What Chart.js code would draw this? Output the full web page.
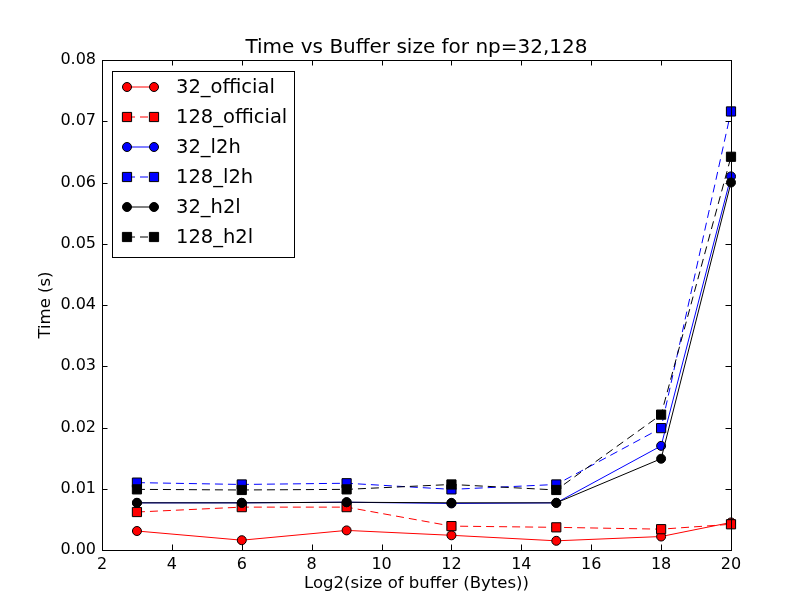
<!DOCTYPE html>
<html>
<head>
<meta charset="utf-8">
<script src="https://cdn.jsdelivr.net/npm/chart.js@4.4.0/dist/chart.umd.min.js"></script>
<style>
  html, body { margin: 0; padding: 0; background: #fff; }
  #wrap { width: 812px; height: 612px; }
</style>
</head>
<body>
<div id="wrap"><canvas id="chart" width="812" height="612"></canvas></div>
<script>
// values
const bufferLog2 = [3, 6, 9, 12, 15, 18, 20];
const official32 = [0.0031, 0.0016, 0.0032, 0.0024, 0.0015, 0.0022, 0.0045];
const official128 = [0.0062, 0.0070, 0.0070, 0.0039, 0.0037, 0.0034, 0.0042];
const l2h32 = [0.0077, 0.0077, 0.0078, 0.0076, 0.0077, 0.0170, 0.0610];
const l2h128 = [0.0110, 0.0107, 0.0109, 0.0099, 0.0107, 0.0199, 0.0716];
const h2l32 = [0.0077, 0.0077, 0.0078, 0.0077, 0.0077, 0.0149, 0.0600];
const h2l128 = [0.0099, 0.0098, 0.0099, 0.0107, 0.0098, 0.0221, 0.0642];
const seriesNames = ['32_official', '128_official', '32_l2h', '128_l2h', '32_h2l', '128_h2l'];
const xTicks = [2, 4, 6, 8, 10, 12, 14, 16, 18, 20];
const yTicks = [0, 0.01, 0.02, 0.03, 0.04, 0.05, 0.06, 0.07, 0.08];
const titleText = 'Time vs Buffer size for np=32,128';

const FONT = '"DejaVu Sans", sans-serif';
const DASH = [8, 5];

function pts(ys) {
    return bufferLog2.map((x, i) => ({ x: x, y: ys[i] }));
}

function series(i, ys, color, dashed) {
    return {
        label: seriesNames[i],
        data: pts(ys),
        borderColor: color,
        backgroundColor: color,
        borderWidth: 1,
        borderDash: dashed ? DASH : [],
        pointStyle: dashed ? 'rect' : 'circle',
        pointRadius: dashed ? 6.5 : 4.5,
        pointBorderColor: '#000',
        pointBorderWidth: 1,
        pointBackgroundColor: color,
        tension: 0,
        fill: false,
        clip: false,
        order: 5 - i, // later series on top, as in matplotlib
    };
}

// frame, inward ticks, title and in-plot legend, like the matplotlib original
const decor = {
    id: 'decor',
    afterDatasetsDraw(chart) {
        const { ctx, chartArea: a, scales } = chart;
        ctx.save();
        ctx.strokeStyle = '#000';
        ctx.lineWidth = 1;
        ctx.setLineDash([]);
        ctx.beginPath();
        const t = 5.5;
        xTicks.forEach(v => {
            const px = Math.round(scales.x.getPixelForValue(v)) + 0.5;
            ctx.moveTo(px, a.bottom); ctx.lineTo(px, a.bottom - t);
            ctx.moveTo(px, a.top); ctx.lineTo(px, a.top + t);
        });
        yTicks.forEach(v => {
            const py = Math.round(scales.y.getPixelForValue(v)) + 0.5;
            ctx.moveTo(a.left, py); ctx.lineTo(a.left + t, py);
            ctx.moveTo(a.right, py); ctx.lineTo(a.right - t, py);
        });
        ctx.stroke();
        ctx.strokeRect(Math.round(a.left) + 0.5, Math.round(a.top) + 0.5,
            Math.round(a.right - a.left), Math.round(a.bottom - a.top));

        // title
        ctx.fillStyle = '#000';
        ctx.font = '20px ' + FONT;
        ctx.textAlign = 'center';
        ctx.textBaseline = 'middle';
        ctx.fillText(titleText, (a.left + a.right) / 2, a.top - 12);

        // legend box
        const bx = a.left + 10, by = a.top + 11, bw = 182, bh = 186;
        ctx.fillStyle = '#fff';
        ctx.fillRect(bx, by, bw, bh);
        ctx.strokeRect(bx + 0.5, by + 0.5, bw, bh);
        ctx.font = '19.5px ' + FONT;
        ctx.textAlign = 'left';
        chart.data.datasets.forEach((ds, i) => {
            const y = by + 16 + i * 30;
            const x1 = bx + 15, x2 = bx + 42;
            ctx.strokeStyle = ds.borderColor;
            ctx.lineWidth = 1;
            ctx.setLineDash(ds.borderDash);
            ctx.beginPath();
            ctx.moveTo(x1, y); ctx.lineTo(x2, y);
            ctx.stroke();
            ctx.setLineDash([]);
            [x1, x2].forEach(x => {
                ctx.fillStyle = ds.pointBackgroundColor;
                ctx.strokeStyle = '#000';
                Chart.helpers.drawPoint(ctx, {
                    pointStyle: ds.pointStyle, radius: ds.pointRadius, rotation: 0,
                    borderWidth: 1,
                }, x, y);
            });
            ctx.fillStyle = '#000';
            ctx.fillText(ds.label, bx + 64, y + 1);
        });
        ctx.restore();
    },
};

new Chart(document.getElementById('chart'), {
    type: 'line',
    data: {
        datasets: [
            series(0, official32, '#ff0000', false),
            series(1, official128, '#ff0000', true),
            series(2, l2h32, '#0000ff', false),
            series(3, l2h128, '#0000ff', true),
            series(4, h2l32, '#000000', false),
            series(5, h2l128, '#000000', true),
        ],
    },
    options: {
        responsive: false,
        animation: false,
        devicePixelRatio: 1,
        layout: { padding: { left: 0, top: 60, right: 81, bottom: 0 } },
        plugins: { legend: { display: false }, title: { display: false }, tooltip: { enabled: false } },
        scales: {
            x: {
                type: 'linear', min: 2, max: 20,
                afterFit: s => { s.height = 62; },
                afterBuildTicks: s => { s.ticks = xTicks.map(v => ({ value: v })); },
                grid: { display: false, drawTicks: false },
                border: { display: false },
                ticks: { color: '#000', padding: 5, font: { family: FONT, size: 16 }, maxRotation: 0 },
                title: { display: true, text: 'Log2(size of buffer (Bytes))', color: '#000',
                         font: { family: FONT, size: 16.5 }, padding: { top: 0, bottom: 18 } },
            },
            y: {
                type: 'linear', min: 0, max: 0.08,
                afterFit: s => { s.width = 102; },
                afterBuildTicks: s => { s.ticks = yTicks.map(v => ({ value: v })); },
                grid: { display: false, drawTicks: false },
                border: { display: false },
                ticks: { color: '#000', padding: 6, font: { family: FONT, size: 16 },
                         callback: v => v.toFixed(2) },
                title: { display: true, text: 'Time (s)', color: '#000',
                         font: { family: FONT, size: 16.5 }, padding: { top: 36, bottom: 0 } },
            },
        },
    },
    plugins: [decor],
});
</script>
</body>
</html>
